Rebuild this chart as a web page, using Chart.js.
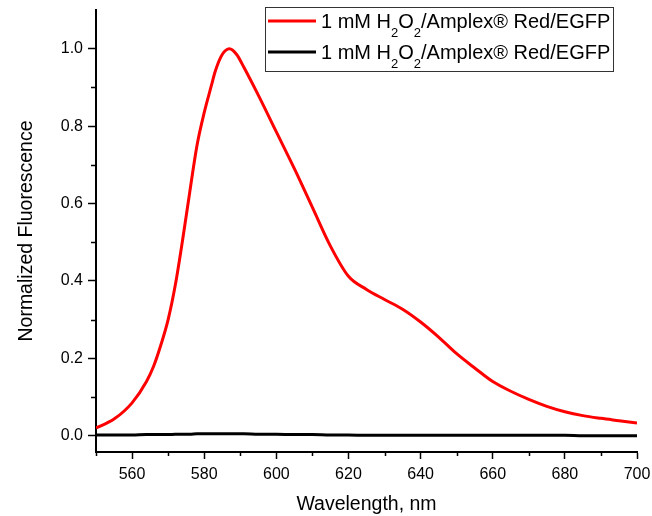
<!DOCTYPE html>
<html>
<head>
<meta charset="utf-8">
<script src="https://cdn.jsdelivr.net/npm/chart.js@4.4.1/dist/chart.umd.min.js"></script>
<style>
  html, body { margin: 0; padding: 0; background: #fff; }
  #wrap { width: 652px; height: 516px; }
</style>
</head>
<body>
<div id="wrap"><canvas id="fluorChart" width="652" height="516"></canvas></div>
<script>
// wavelength (nm)
var wavelengths = [550, 555, 560, 564, 566, 568, 570, 572, 574, 576, 578, 580, 582, 583, 585, 587, 589, 591, 595,
  600, 605, 610, 615, 620, 625, 630, 635, 640, 645, 650, 655, 660, 665, 670, 675, 680, 685, 690, 695, 700];
// red curve
var withH2O2 = [0.02, 0.043, 0.085, 0.14, 0.18, 0.235, 0.30, 0.39, 0.505, 0.63, 0.75, 0.835, 0.905, 0.94, 0.985,
  1.0, 0.985, 0.952, 0.88, 0.785, 0.69, 0.59, 0.49, 0.412, 0.378, 0.352, 0.327, 0.294, 0.255, 0.212, 0.175,
  0.14, 0.115, 0.094, 0.076, 0.062, 0.052, 0.045, 0.039, 0.033];
// black curve (almost flat)
var withoutH2O2 = [0.002, 0.002, 0.002, 0.003, 0.003, 0.003, 0.003, 0.004, 0.004, 0.004, 0.005, 0.005, 0.005,
  0.005, 0.005, 0.005, 0.005, 0.005, 0.004, 0.004, 0.003, 0.003, 0.002, 0.002, 0.001, 0.001, 0.001, 0.001,
  0.001, 0.001, 0.001, 0.001, 0.001, 0.001, 0.001, 0.001, 0.0, 0.0, 0.0, 0.0];
var seriesLabels = ['1 mM H\u2082O\u2082/Amplex\u00ae Red/EGFP', '1 mM H\u2082O\u2082/Amplex\u00ae Red/EGFP'];
var xMinorTicks = [550, 570, 590, 610, 630, 650, 670, 690];
var yMinorTicks = [0.1, 0.3, 0.5, 0.7, 0.9];

var FONT = '"Liberation Sans", Arial, sans-serif';

function toPoints(xs, ys) {
  return xs.map(function(x, i) { return { x: x, y: ys[i] }; });
}

// minor ticks + legend box (legend needs real subscripts)
var extrasPlugin = {
  id: 'extras',
  afterDraw: function(chart) {
    var ctx = chart.ctx;
    var xs = chart.scales.x, ys = chart.scales.y;
    ctx.save();
    ctx.strokeStyle = '#000';
    ctx.lineWidth = 1.5;
    ctx.beginPath();
    xMinorTicks.forEach(function(v) {
      var px = Math.round(xs.getPixelForValue(v)) + 0.5;
      ctx.moveTo(px, xs.top);
      ctx.lineTo(px, xs.top + 4);
    });
    yMinorTicks.forEach(function(v) {
      var py = Math.round(ys.getPixelForValue(v)) + 0.5;
      ctx.moveTo(ys.right, py);
      ctx.lineTo(ys.right - 5, py);
    });
    ctx.stroke();

    // legend
    var bx = 265.5, by = 7.5, bw = 348, bh = 64;
    ctx.fillStyle = '#fff';
    ctx.fillRect(bx, by, bw, bh);
    ctx.strokeStyle = '#333';
    ctx.lineWidth = 1;
    ctx.strokeRect(bx, by, bw, bh);
    var rows = [21, 52];
    chart.data.datasets.forEach(function(ds, i) {
      var y = rows[i];
      ctx.strokeStyle = ds.borderColor;
      ctx.lineWidth = 3;
      ctx.beginPath();
      ctx.moveTo(268, y);
      ctx.lineTo(316, y);
      ctx.stroke();
      var base = y + 7;
      var x = 321;
      ctx.fillStyle = '#000';
      ctx.textBaseline = 'alphabetic';
      ctx.textAlign = 'left';
      var parts = ds.label.split('\u2082');
      parts.forEach(function(part, k) {
        ctx.font = '20px ' + FONT;
        ctx.fillText(part, x, base);
        x += ctx.measureText(part).width;
        if (k < parts.length - 1) {
          ctx.font = '13px ' + FONT;
          ctx.fillText('2', x, base + 9);
          x += ctx.measureText('2').width;
        }
      });
    });
    ctx.restore();
  }
};

var ctx = document.getElementById('fluorChart').getContext('2d');
var fluorChart = new Chart(ctx, {
  type: 'line',
  data: {
    datasets: [{
      label: seriesLabels[0],
      data: toPoints(wavelengths, withH2O2),
      borderColor: '#ff0000',
      borderWidth: 3,
      pointRadius: 0,
      cubicInterpolationMode: 'monotone',
      fill: false
    }, {
      label: seriesLabels[1],
      data: toPoints(wavelengths, withoutH2O2),
      borderColor: '#000000',
      borderWidth: 3,
      pointRadius: 0,
      cubicInterpolationMode: 'monotone',
      fill: false
    }]
  },
  options: {
    responsive: false,
    animation: false,
    layout: { padding: { top: 10, right: 15, left: 0, bottom: 0 } },
    plugins: {
      legend: { display: false },
      tooltip: { enabled: false }
    },
    scales: {
      x: {
        type: 'linear',
        min: 550,
        max: 700,
        afterFit: function(s) { s.height = 64; s.paddingLeft = 0; s.paddingRight = 0; },
        grid: { drawOnChartArea: false, drawTicks: true, tickLength: 7, tickColor: '#000', tickWidth: 1.5 },
        border: { display: true, color: '#000', width: 2 },
        ticks: {
          stepSize: 20,
          includeBounds: false,
          maxRotation: 0,
          padding: 6,
          color: '#000',
          font: { family: FONT, size: 16 }
        },
        title: {
          display: true,
          text: 'Wavelength, nm',
          color: '#000',
          font: { family: FONT, size: 19.5 },
          padding: { top: 0, bottom: 0 }
        }
      },
      y: {
        min: -0.042,
        max: 1.1,
        afterFit: function(s) { s.width = 96; s.paddingTop = 0; s.paddingBottom = 0; },
        grid: { drawOnChartArea: false, drawTicks: true, tickLength: 8, tickColor: '#000', tickWidth: 1.5 },
        border: { display: true, color: '#000', width: 2 },
        ticks: {
          stepSize: 0.2,
          includeBounds: false,
          padding: 5,
          color: '#000',
          font: { family: FONT, size: 16 },
          callback: function(v) { return v.toFixed(1); }
        },
        title: {
          display: true,
          text: 'Normalized Fluorescence',
          color: '#000',
          font: { family: FONT, size: 19.5 },
          padding: { top: 15, bottom: 0 }
        }
      }
    }
  },
  plugins: [extrasPlugin]
});
</script>
</body>
</html>
